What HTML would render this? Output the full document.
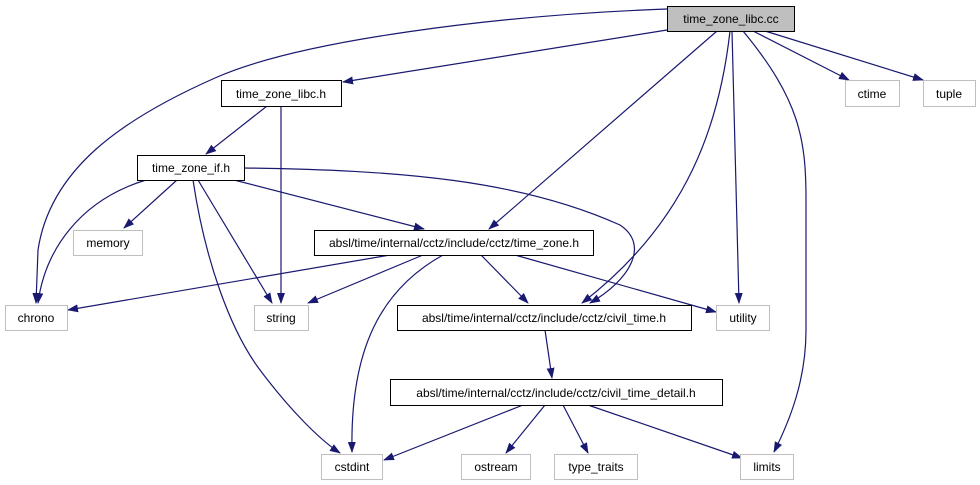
<!DOCTYPE html>
<html><head><meta charset="utf-8"><style>
html,body{margin:0;padding:0;background:#fff;width:980px;height:485px;overflow:hidden}
svg{display:block}
text{font-family:"Liberation Sans",sans-serif;font-size:12px;fill:#000}
.e{fill:none;stroke:#191970;stroke-width:1.2}
</style></head><body>
<svg width="980" height="485" viewBox="0 0 980 485" xmlns="http://www.w3.org/2000/svg">
<defs><marker id="a" markerWidth="11" markerHeight="8" refX="10" refY="4" orient="auto" markerUnits="userSpaceOnUse"><polygon points="0,0 11,4 0,8" fill="#191970"/></marker></defs>
<g class="e" marker-end="url(#a)">
<path d="M667,9 C500,15 300,40 215,78 C120,120 50,170 38,250 L36,303"/>
<path d="M667,30 L343,82"/>
<path d="M717,31 L489,229"/>
<path d="M730,31 C720,120 690,220 582,303"/>
<path d="M244,168 C400,170 520,180 620,225 C650,245 630,280 590,303"/>
<path d="M732,31 L739,303"/>
<path d="M743,31 C800,100 806,140 806,200 L806,330 C806,380 790,420 774,452"/>
<path d="M753,31 L849,80"/>
<path d="M765,31 L923,80"/>
<path d="M267,106 L206,154"/>
<path d="M281,106 L281,303"/>
<path d="M146,180 C80,200 45,250 38,303"/>
<path d="M177,180 L124,228"/>
<path d="M234,180 L424,229"/>
<path d="M198,180 L272,303"/>
<path d="M193,180 C205,260 230,330 260,370 C290,410 320,440 340,453"/>
<path d="M390,255 L68,310"/>
<path d="M423,255 L308,303"/>
<path d="M443,255 C380,290 350,350 352,452"/>
<path d="M481,255 L528,303"/>
<path d="M515,255 L716,312"/>
<path d="M545,330 L552,378"/>
<path d="M523,405 L384,460"/>
<path d="M545,405 L506,453"/>
<path d="M563,405 L588,453"/>
<path d="M588,405 L742,458"/>
</g>
<g stroke-width="1">
<rect x="667.5" y="6.5" width="127" height="25" fill="#bfbfbf" stroke="#000"/>
<rect x="221.5" y="80.5" width="120" height="26" fill="#fff" stroke="#000"/>
<rect x="137.5" y="155.5" width="107" height="25" fill="#fff" stroke="#000"/>
<rect x="314.5" y="230.5" width="279" height="25" fill="#fff" stroke="#000"/>
<rect x="397.5" y="305.5" width="294" height="25" fill="#fff" stroke="#000"/>
<rect x="390.5" y="379.5" width="332" height="26" fill="#fff" stroke="#000"/>
<g fill="#fff" stroke="#bfbfbf">
<rect x="845.5" y="80.5" width="54" height="26"/>
<rect x="923.5" y="80.5" width="52" height="26"/>
<rect x="73.5" y="230.5" width="69" height="25"/>
<rect x="5.5" y="305.5" width="62" height="25"/>
<rect x="254.5" y="305.5" width="54" height="25"/>
<rect x="716.5" y="305.5" width="53" height="25"/>
<rect x="321.5" y="454.5" width="61" height="25"/>
<rect x="461.5" y="454.5" width="69" height="25"/>
<rect x="554.5" y="454.5" width="83" height="25"/>
<rect x="740.5" y="454.5" width="53" height="25"/>
</g></g>
<g text-anchor="middle">
<text x="731" y="23">time_zone_libc.cc</text>
<text x="281" y="98">time_zone_libc.h</text>
<text x="191" y="172">time_zone_if.h</text>
<text x="454" y="247">absl/time/internal/cctz/include/cctz/time_zone.h</text>
<text x="544" y="322">absl/time/internal/cctz/include/cctz/civil_time.h</text>
<text x="556" y="397">absl/time/internal/cctz/include/cctz/civil_time_detail.h</text>
<text x="872" y="98">ctime</text>
<text x="949" y="98">tuple</text>
<text x="108" y="247">memory</text>
<text x="36" y="322">chrono</text>
<text x="281" y="322">string</text>
<text x="743" y="322">utility</text>
<text x="352" y="471">cstdint</text>
<text x="496" y="471">ostream</text>
<text x="596" y="471">type_traits</text>
<text x="767" y="471">limits</text>
</g>
</svg>
</body></html>
